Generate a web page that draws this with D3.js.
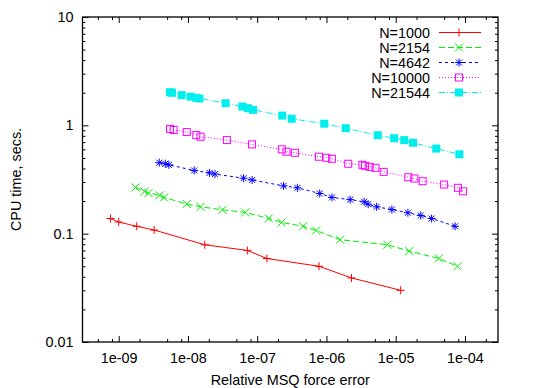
<!DOCTYPE html>
<html>
<head>
<meta charset="utf-8">
<script src="https://cdn.jsdelivr.net/npm/d3@7"></script>
<style>
  html, body { margin: 0; padding: 0; background: #fff; }
  svg { display: block; }
  text { font-family: "Liberation Sans", Arial, sans-serif; fill: #000; }
</style>
</head>
<body>
<svg id="chart" width="543" height="388"></svg>
<script>
// ---- data ----
const seriesNames = ["N=1000", "N=2154", "N=4642", "N=10000", "N=21544"];

const n1000X = [7.6e-10, 1.0e-9, 1.82e-9, 3.25e-9, 1.75e-8, 7.2e-8, 1.38e-7, 7.8e-7, 2.3e-6, 1.18e-5];
const n1000Y = [0.138, 0.128, 0.117, 0.108, 0.079, 0.070, 0.059, 0.050, 0.039, 0.030];

const n2154X = [1.75e-9, 2.35e-9, 2.7e-9, 3.9e-9, 4.5e-9, 9.6e-9, 1.52e-8, 3.15e-8, 6.7e-8, 1.47e-7, 2.25e-7, 4.6e-7, 7.1e-7, 1.57e-6, 7.6e-6, 1.57e-5, 4.2e-5, 7.8e-5];
const n2154Y = [0.267, 0.246, 0.237, 0.226, 0.216, 0.188, 0.177, 0.166, 0.157, 0.138, 0.127, 0.117, 0.107, 0.088, 0.079, 0.069, 0.059, 0.050];

const n4642X = [3.85e-9, 4.7e-9, 5.3e-9, 1.23e-8, 2.05e-8, 2.45e-8, 6.35e-8, 8.45e-8, 2.4e-7, 3.8e-7, 8.0e-7, 1.2e-6, 2.2e-6, 3.5e-6, 4.0e-6, 5.3e-6, 8.8e-6, 1.5e-5, 2.3e-5, 3.3e-5, 7.2e-5];
const n4642Y = [0.452, 0.442, 0.432, 0.383, 0.364, 0.355, 0.325, 0.313, 0.276, 0.265, 0.235, 0.216, 0.206, 0.197, 0.187, 0.177, 0.167, 0.156, 0.147, 0.138, 0.117];

const n10000X = [5.5e-9, 6.2e-9, 9.6e-9, 1.32e-8, 1.52e-8, 3.65e-8, 8.4e-8, 2.27e-7, 2.65e-7, 3.5e-7, 7.8e-7, 1.0e-6, 1.2e-6, 2.06e-6, 3.3e-6, 3.6e-6, 4.2e-6, 5.1e-6, 6.7e-6, 1.52e-5, 1.86e-5, 2.45e-5, 5.0e-5, 7.9e-5, 9.4e-5];
const n10000Y = [0.927, 0.906, 0.867, 0.813, 0.785, 0.731, 0.667, 0.600, 0.571, 0.558, 0.513, 0.502, 0.491, 0.442, 0.432, 0.423, 0.414, 0.405, 0.372, 0.332, 0.323, 0.305, 0.284, 0.265, 0.246];

const n21544X = [5.5e-9, 5.9e-9, 8.1e-9, 1.09e-8, 1.32e-8, 1.46e-8, 3.5e-8, 6.1e-8, 7.3e-8, 8.7e-8, 2.3e-7, 3.15e-7, 9.3e-7, 1.9e-6, 5.5e-6, 9.5e-6, 1.33e-5, 1.78e-5, 3.85e-5, 8.3e-5];
const n21544Y = [2.02, 2.00, 1.90, 1.84, 1.79, 1.77, 1.60, 1.49, 1.44, 1.39, 1.23, 1.15, 1.035, 0.94, 0.81, 0.76, 0.73, 0.69, 0.61, 0.54];

const xTickValues = [1e-9, 1e-8, 1e-7, 1e-6, 1e-5, 1e-4];
const xTickLabels = ["1e-09", "1e-08", "1e-07", "1e-06", "1e-05", "1e-04"];
const yTickValues = [0.01, 0.1, 1, 10];
const yTickLabels = ["0.01", "0.1", "1", "10"];

const xLabel = "Relative MSQ force error";
const yLabel = "CPU time, secs.";

// ---- layout ----
const W = 543, H = 388;
const plot = { left: 82.5, right: 498, top: 17, bottom: 342 };

const x = d3.scaleLog().domain([3e-10, 3e-4]).range([plot.left, plot.right]);
const y = d3.scaleLog().domain([0.01, 10]).range([plot.bottom, plot.top]);

const svg = d3.select("#chart");

// minor ticks
const xMinor = [];
[-10, -9, -8, -7, -6, -5, -4].forEach(e => {
  [2, 5, 8].forEach(m => {
    const v = m * Math.pow(10, e);
    if (v > 3e-10 && v < 3e-4) xMinor.push(v);
  });
});
const yMinor = [];
[-2, -1, 0].forEach(e => {
  for (let m = 2; m <= 9; m++) yMinor.push(m * Math.pow(10, e));
});

const FS = 14.4;
const tickCol = "#000";

function styleAxis(g) {
  g.select(".domain").remove();
  g.selectAll(".tick line").attr("stroke", tickCol).attr("stroke-width", 1);
  g.selectAll("text").style("font-size", FS + "px").attr("fill", "#000");
}

// bottom major with labels
svg.append("g")
  .attr("transform", `translate(0,${plot.bottom})`)
  .call(d3.axisBottom(x).tickValues(xTickValues)
    .tickFormat((d, i) => xTickLabels[i])
    .tickSizeInner(-6).tickSizeOuter(0).tickPadding(11))
  .call(styleAxis);
svg.append("g")
  .attr("transform", `translate(0,${plot.bottom})`)
  .call(d3.axisBottom(x).tickValues(xMinor).tickFormat("").tickSizeInner(-3).tickSizeOuter(0))
  .call(styleAxis);
// top
svg.append("g")
  .attr("transform", `translate(0,${plot.top})`)
  .call(d3.axisTop(x).tickValues(xTickValues).tickFormat("").tickSizeInner(-6).tickSizeOuter(0))
  .call(styleAxis);
svg.append("g")
  .attr("transform", `translate(0,${plot.top})`)
  .call(d3.axisTop(x).tickValues(xMinor).tickFormat("").tickSizeInner(-3).tickSizeOuter(0))
  .call(styleAxis);
// left major with labels
svg.append("g")
  .attr("transform", `translate(${plot.left},0)`)
  .call(d3.axisLeft(y).tickValues(yTickValues)
    .tickFormat((d, i) => yTickLabels[i])
    .tickSizeInner(-6).tickSizeOuter(0).tickPadding(9))
  .call(styleAxis);
svg.append("g")
  .attr("transform", `translate(${plot.left},0)`)
  .call(d3.axisLeft(y).tickValues(yMinor).tickFormat("").tickSizeInner(-3).tickSizeOuter(0))
  .call(styleAxis);
// right
svg.append("g")
  .attr("transform", `translate(${plot.right},0)`)
  .call(d3.axisRight(y).tickValues(yTickValues).tickFormat("").tickSizeInner(-6).tickSizeOuter(0))
  .call(styleAxis);
svg.append("g")
  .attr("transform", `translate(${plot.right},0)`)
  .call(d3.axisRight(y).tickValues(yMinor).tickFormat("").tickSizeInner(-3).tickSizeOuter(0))
  .call(styleAxis);

// frame
svg.append("rect")
  .attr("x", plot.left).attr("y", plot.top)
  .attr("width", plot.right - plot.left).attr("height", plot.bottom - plot.top)
  .attr("fill", "none").attr("stroke", "#000").attr("stroke-width", 1.3);

// axis titles
svg.append("text")
  .attr("x", (plot.left + plot.right) / 2).attr("y", 385)
  .attr("text-anchor", "middle").style("font-size", FS + "px")
  .text(xLabel);
svg.append("text")
  .attr("transform", `translate(20.5,${(plot.top + plot.bottom) / 2}) rotate(-90)`)
  .attr("text-anchor", "middle").style("font-size", FS + "px")
  .text(yLabel);

// series
const series = [
  { name: seriesNames[0], xs: n1000X, ys: n1000Y, color: "#ff0000", dash: null, marker: "plus" },
  { name: seriesNames[1], xs: n2154X, ys: n2154Y, color: "#00ee00", dash: "6,3", marker: "cross" },
  { name: seriesNames[2], xs: n4642X, ys: n4642Y, color: "#0000ff", dash: "3,3", marker: "star" },
  { name: seriesNames[3], xs: n10000X, ys: n10000Y, color: "#ff00ff", dash: "1,2", marker: "box" },
  { name: seriesNames[4], xs: n21544X, ys: n21544Y, color: "#00eeee", dash: "6,2,1,2", marker: "fbox" }
];

function drawMarker(g, type, cx, cy, color) {
  const r = 4;
  if (type === "plus" || type === "star") {
    g.append("path").attr("d", `M${cx - r},${cy}H${cx + r}M${cx},${cy - r}V${cy + r}`)
      .attr("stroke", color).attr("stroke-width", 1).attr("fill", "none");
  }
  if (type === "cross" || type === "star") {
    const q = type === "star" ? 3 : 4;
    g.append("path").attr("d", `M${cx - q},${cy - q}L${cx + q},${cy + q}M${cx - q},${cy + q}L${cx + q},${cy - q}`)
      .attr("stroke", color).attr("stroke-width", 1).attr("fill", "none");
  }
  if (type === "box") {
    g.append("rect").attr("x", cx - 3.5).attr("y", cy - 3.5).attr("width", 7).attr("height", 7)
      .attr("stroke", color).attr("stroke-width", 1).attr("fill", "none");
  }
  if (type === "fbox") {
    g.append("rect").attr("x", cx - 4).attr("y", cy - 4).attr("width", 8).attr("height", 8)
      .attr("fill", color).attr("stroke", "none");
  }
}

const line = d3.line().x(d => x(d[0])).y(d => y(d[1]));

series.forEach(s => {
  const pts = s.xs.map((v, i) => [v, s.ys[i]]);
  const g = svg.append("g");
  g.append("path").datum(pts).attr("d", line)
    .attr("fill", "none").attr("stroke", s.color).attr("stroke-width", 1)
    .attr("stroke-dasharray", s.dash);
  pts.forEach(p => drawMarker(g, s.marker, x(p[0]), y(p[1]), s.color));
});

// legend
const legRowY = [32.5, 47.5, 62.5, 77.5, 92.5];
series.forEach((s, i) => {
  const cy = legRowY[i];
  svg.append("text").attr("x", 430).attr("y", cy + 5.2)
    .attr("text-anchor", "end").style("font-size", FS + "px").text(s.name);
  svg.append("line").attr("x1", 439).attr("x2", 481).attr("y1", cy).attr("y2", cy)
    .attr("stroke", s.color).attr("stroke-width", 1).attr("stroke-dasharray", s.dash);
  drawMarker(svg, s.marker, 459, cy, s.color);
});
</script>
</body>
</html>
